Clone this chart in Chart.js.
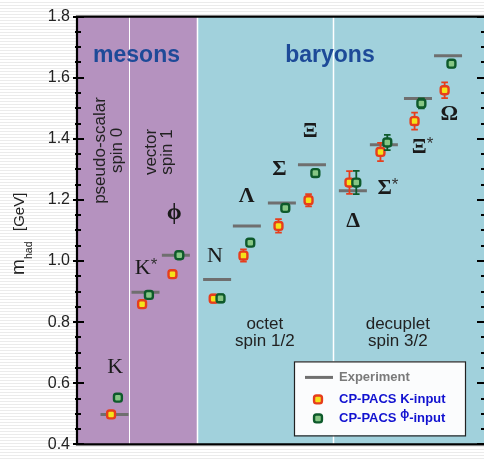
<!DOCTYPE html>
<html><head><meta charset="utf-8">
<script src="https://cdn.jsdelivr.net/npm/chart.js@4/dist/chart.umd.min.js"></script>
<style>
html,body{margin:0;padding:0;overflow:hidden;}
body{width:484px;height:461px;background:repeating-linear-gradient(to bottom,#ffffff 0px,#ffffff 2px,#ebebeb 2px,#ebebeb 3px);}
#wrap{position:relative;width:484px;height:461px;}
#c{display:block;}
</style></head>
<body><div id="wrap"><canvas id="c" width="484" height="461"></canvas></div>
<script>
// ---- data ----
const particles   = ['K','K*','ϕ','N','Λ','Σ','Ξ','Δ','Σ*','Ξ*','Ω'];
const xPos        = [1.21,2.21,3.19,4.52,5.48,6.61,7.58,8.90,9.90,11.00,11.97];
const experiment  = [0.498,0.898,1.019,0.940,1.115,1.190,1.315,1.230,1.381,1.532,1.672];
const kInput      = [0.498,0.859,0.957,0.877,1.018,1.115,1.199,1.257,1.357,1.458,1.559];
const kInputErr   = [0.003,0.004,0.005,0.013,0.020,0.022,0.020,0.037,0.030,0.028,0.026];
const phiInput    = [0.553,0.889,1.019,0.878,1.060,1.174,1.288,1.257,1.388,1.516,1.646];
const phiInputErr = [0.003,0.004,0.004,0.013,0.008,0.008,0.008,0.038,0.025,0.016,0.012];
const yTicks      = [0.4,0.6,0.8,1.0,1.2,1.4,1.6,1.8];
const seriesNames = ['Experiment','CP-PACS K-input','CP-PACS ϕ-input'];

// ---- annotation anchors (layout) ----
const labelX = [1.23,2.23,3.14,4.45,5.47,6.53,7.52,8.91,10.03,11.15,12.01];
const labelY = [0.652,0.977,1.158,1.015,1.212,1.300,1.424,1.131,1.237,1.373,1.479];
const dividers = [1.68,3.87,8.25];
const mesonEnd = 3.87;
const OFF = 0.11;

const SANS = '"Liberation Sans", Arial, sans-serif';
const SERIF = '"Liberation Serif", "DejaVu Serif", serif';
const C = {
  purple:'#b592bf', teal:'#a1d1dc', exp:'#6f6f6f',
  redB:'#e63e1c', redF:'#f4e31a', grnB:'#0e5a2b', grnF:'#86c684',
  blue:'#1d4a98', legBlue:'#1212d0'
};

const bgPlugin = {
  id:'bg',
  beforeDatasetsDraw(chart){
    const {ctx, chartArea:a, scales:{x,y}} = chart;
    ctx.save();
    const xb = x.getPixelForValue(mesonEnd);
    ctx.fillStyle = C.purple; ctx.fillRect(a.left, a.top, xb-a.left, a.bottom-a.top);
    ctx.fillStyle = C.teal; ctx.fillRect(xb, a.top, a.right-xb, a.bottom-a.top);
    ctx.strokeStyle = '#ffffff';
    dividers.forEach((d,i)=>{
      const px = Math.round(x.getPixelForValue(d))+0.5;
      ctx.lineWidth = i===0 ? 1 : 1.5;
      ctx.beginPath(); ctx.moveTo(px,a.top); ctx.lineTo(px,a.bottom); ctx.stroke();
    });
    ctx.fillStyle = C.blue; ctx.font = 'bold 23px '+SANS;
    ctx.textAlign='center'; ctx.textBaseline='middle';
    ctx.fillText('mesons', x.getPixelForValue(1.92), y.getPixelForValue(1.672));
    ctx.fillText('baryons', x.getPixelForValue(8.16), y.getPixelForValue(1.672));
    ctx.fillStyle = '#222'; ctx.font = '17px '+SANS;
    const rot = (t, xv, yv) => {
      ctx.save(); ctx.translate(x.getPixelForValue(xv), y.getPixelForValue(yv));
      ctx.rotate(-Math.PI/2); ctx.fillText(t,0,0); ctx.restore();
    };
    rot('pseudo-scalar',0.74,1.362); rot('spin 0',1.29,1.362);
    rot('vector',2.39,1.357); rot('spin 1',2.90,1.357);
    ctx.fillText('octet', x.getPixelForValue(6.06), y.getPixelForValue(0.793));
    ctx.fillText('spin 1/2', x.getPixelForValue(6.06), y.getPixelForValue(0.737));
    ctx.fillText('decuplet', x.getPixelForValue(10.35), y.getPixelForValue(0.793));
    ctx.fillText('spin 3/2', x.getPixelForValue(10.35), y.getPixelForValue(0.737));
    particles.forEach((p,i)=>{
      const base = p.replace('*','');
      const star = p.includes('*');
      const bold = !(base==='K' || base==='N');
      const f1 = (bold?'bold ':'')+(base==='ϕ'?'24px ':'22px ')+SERIF;
      ctx.font = f1;
      const w1 = ctx.measureText(base).width;
      ctx.font = '17px '+SANS;
      const w2 = star ? ctx.measureText('*').width : 0;
      const cx = x.getPixelForValue(labelX[i]), cy = y.getPixelForValue(labelY[i]);
      const left = cx - (w1+w2)/2;
      ctx.textAlign='left'; ctx.textBaseline='middle';
      ctx.fillStyle = '#1a1a1a'; ctx.font = f1;
      ctx.fillText(base, left, cy);
      if (star){ ctx.fillStyle='#333'; ctx.font='17px '+SANS; ctx.fillText('*', left+w1, cy-3); }
    });
    ctx.restore();
  }
};

const errPlugin = {
  id:'err',
  beforeDatasetDraw(chart, args){
    const ds = chart.data.datasets[args.index];
    if (!ds.errors) return;
    const {ctx, scales:{y}} = chart;
    ctx.save(); ctx.strokeStyle = ds.borderColor; ctx.lineWidth = 1.8;
    args.meta.data.forEach((pt,i)=>{
      const v = ds.data[i].y, e = ds.errors[i];
      const y1 = y.getPixelForValue(v+e), y2 = y.getPixelForValue(v-e);
      ctx.beginPath();
      ctx.moveTo(pt.x,y1); ctx.lineTo(pt.x,y2);
      ctx.moveTo(pt.x-3.3,y1); ctx.lineTo(pt.x+3.3,y1);
      ctx.moveTo(pt.x-3.3,y2); ctx.lineTo(pt.x+3.3,y2);
      ctx.stroke();
    });
    ctx.restore();
  }
};

const framePlugin = {
  id:'frame',
  afterDraw(chart){
    const {ctx, chartArea:a, scales:{y}} = chart;
    ctx.save();
    ctx.strokeStyle='#000'; ctx.lineWidth=2;
    for (let i=0;i<=28;i++){
      const v = 0.4+0.05*i, major = (i%4===0);
      const py = Math.round(y.getPixelForValue(v));
      ctx.beginPath();
      ctx.moveTo(a.left-(major?4:2), py); ctx.lineTo(a.left+(major?7:4), py);
      ctx.moveTo(a.right-(major?7:3), py); ctx.lineTo(a.right, py);
      ctx.stroke();
    }
    ctx.lineWidth=2.2;
    ctx.beginPath();
    ctx.moveTo(a.right, a.top); ctx.lineTo(a.left, a.top); ctx.lineTo(a.left, a.bottom); ctx.lineTo(a.right, a.bottom);
    ctx.stroke();
    const L = a.right-190, T = a.bottom-83, W = 171, H = 74;
    ctx.fillStyle='#fbfcfd'; ctx.fillRect(L,T,W,H);
    ctx.strokeStyle='#222'; ctx.lineWidth=1.2; ctx.strokeRect(L+0.5,T+0.5,W,H);
    const ds = chart.data.datasets;
    ctx.strokeStyle = C.exp; ctx.lineWidth=3;
    ctx.beginPath(); ctx.moveTo(L+11,T+16); ctx.lineTo(L+39,T+16); ctx.stroke();
    ctx.textAlign='left'; ctx.textBaseline='middle'; ctx.font='bold 13px '+SANS;
    ctx.fillStyle='#7a7a7a'; ctx.fillText(seriesNames[0], L+45, T+16);
    const mk = (d, yy) => {
      ctx.fillStyle = d.backgroundColor; ctx.strokeStyle = d.borderColor; ctx.lineWidth = d.borderWidth;
      Chart.helpers.drawPoint(ctx, {pointStyle:d.pointStyle, radius:d.pointRadius, borderWidth:d.borderWidth, rotation:0}, L+24, yy);
    };
    mk(ds[1], T+38); mk(ds[2], T+57);
    ctx.fillStyle = C.legBlue;
    ctx.fillText(seriesNames[1], L+45, T+38);
    const parts = seriesNames[2].split('ϕ');
    ctx.fillText(parts[0], L+45, T+57);
    let xx = L+45+ctx.measureText(parts[0]).width;
    ctx.font='bold 12px '+SANS; ctx.fillText('ϕ', xx, T+53);
    xx += ctx.measureText('ϕ').width;
    ctx.font='bold 13px '+SANS; ctx.fillText(parts[1], xx, T+57);
    ctx.fillStyle='#222'; ctx.textAlign='left'; ctx.textBaseline='alphabetic';
    ctx.save(); ctx.translate(24, 275); ctx.rotate(-Math.PI/2);
    ctx.font='19px '+SANS; ctx.fillText('m',0,0);
    ctx.font='10.5px '+SANS; ctx.fillText('had',16,8);
    ctx.font='15px '+SANS; ctx.fillText('[GeV]',44,0);
    ctx.restore();
    ctx.restore();
  }
};

const mkData = (vals, dx) => vals.map((v,i)=>({x:xPos[i]+dx, y:v}));

new Chart(document.getElementById('c'), {
  type:'scatter',
  data:{ datasets:[
    { label:seriesNames[0], data:mkData(experiment,0), pointStyle:'line', pointRadius:14, pointHoverRadius:14,
      borderColor:C.exp, backgroundColor:C.exp, borderWidth:3, order:2 },
    { label:seriesNames[1], data:mkData(kInput,-OFF), errors:kInputErr, pointStyle:'rectRounded', pointRadius:4.6,
      backgroundColor:C.redF, borderColor:C.redB, borderWidth:2.4, order:1 },
    { label:seriesNames[2], data:mkData(phiInput,OFF), errors:phiInputErr, pointStyle:'rectRounded', pointRadius:4.6,
      backgroundColor:C.grnF, borderColor:C.grnB, borderWidth:2.4, order:0 }
  ]},
  options:{
    responsive:false, animation:false, devicePixelRatio:1,
    layout:{autoPadding:false, padding:{top:15,bottom:14,right:0,left:0}},
    plugins:{legend:{display:false}, tooltip:{enabled:false}},
    scales:{
      x:{type:'linear', display:false, min:0, max:13.13},
      y:{type:'linear', min:0.4, max:1.8,
         afterFit(s){ s.width = 77; },
         afterBuildTicks(s){ s.ticks = yTicks.map(v=>({value:v})); },
         grid:{display:false, drawTicks:false}, border:{display:false},
         ticks:{padding:7, color:'#222', font:{family:SANS, size:16}, callback:v=>Number(v).toFixed(1)}
      }
    }
  },
  plugins:[bgPlugin, errPlugin, framePlugin]
});
</script></body></html>
